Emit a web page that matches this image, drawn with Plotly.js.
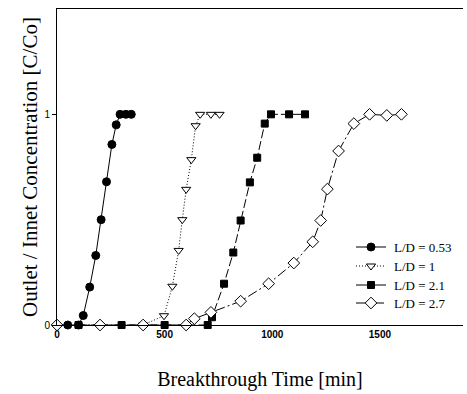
<!DOCTYPE html>
<html><head><meta charset="utf-8">
<script src="https://cdn.plot.ly/plotly-3.0.1.min.js"></script>
<style>html,body{margin:0;padding:0;background:#fff}#c{width:467px;height:394px}</style>
</head><body><div id="c"></div>
<script>
// Data
const seriesNames = ["L/D = 0.53", "L/D = 1", "L/D = 2.1", "L/D = 2.7"];
const t053 = [50, 100, 122, 152, 180, 205, 230, 255, 275, 293, 320, 345];
const c053 = [0, 0, 0.045, 0.18, 0.33, 0.50, 0.68, 0.857, 0.95, 1, 1, 1];
const t1 = [400, 497, 536, 565, 582, 600, 624, 644, 665, 715, 755];
const c1 = [0, 0.044, 0.184, 0.354, 0.5, 0.644, 0.785, 0.946, 1, 1, 1];
const t21 = [100, 300, 500, 700, 720, 776, 819, 853, 896, 930, 965, 994, 1078, 1152];
const c21 = [0, 0, 0, 0, 0.037, 0.196, 0.344, 0.496, 0.677, 0.794, 0.956, 1, 1, 1];
const t27 = [0, 200, 400, 600, 638, 715, 853, 983, 1100, 1188, 1225, 1256, 1308, 1379, 1452, 1532, 1600];
const c27 = [0, 0, 0, 0, 0.03, 0.06, 0.113, 0.196, 0.294, 0.395, 0.496, 0.645, 0.826, 0.956, 1, 0.995, 1];
const xTicks = [0, 500, 1000, 1500];
const yTicks = [0, 1];

const styles = [
  {dash: "solid", symbol: "circle", fill: "black", size: 8},
  {dash: "1px,2px", symbol: "triangle-down", fill: "white", size: 8},
  {dash: "9px,3px", symbol: "square", fill: "black", size: 7},
  {dash: "10px,3px,2px,3px", symbol: "diamond", fill: "white", size: 9}
];
const xs = [t053, t1, t21, t27], ys = [c053, c1, c21, c27];

const traces = [];
for (let i = 0; i < 4; i++) {
  const s = styles[i];
  traces.push({
    x: xs[i], y: ys[i], type: "scatter", mode: "lines+markers", name: seriesNames[i],
    showlegend: false, cliponaxis: false,
    line: {color: "black", width: 1, dash: s.dash},
    marker: {symbol: s.symbol, size: s.size, color: s.fill, line: {color: "black", width: 1}}
  });
}

// Manual legend on pixel-like overlay axes (x2: 0..406 px, y2: 0..316 px)
const legRows = [78, 59, 40, 22];
const legLineX = [299, 329], legMarkX = 314, legTextX = 335;
const annotations = [];
for (let i = 0; i < 4; i++) {
  const s = styles[i];
  traces.push({
    x: legLineX, y: [legRows[i], legRows[i]], xaxis: "x2", yaxis: "y2",
    type: "scatter", mode: "lines", showlegend: false, hoverinfo: "skip", cliponaxis: false,
    line: {color: "black", width: 1, dash: i === 1 ? s.dash : (i === 3 ? "10px,3px,2px,3px" : "solid")}
  });
  traces.push({
    x: [legMarkX], y: [legRows[i]], xaxis: "x2", yaxis: "y2",
    type: "scatter", mode: "markers", showlegend: false, hoverinfo: "skip", cliponaxis: false,
    marker: {symbol: s.symbol, size: s.size, color: s.fill, line: {color: "black", width: 1}}
  });
  annotations.push({
    x: legTextX, y: legRows[i], xref: "x2", yref: "y2", text: seriesNames[i], showarrow: false,
    xanchor: "left", yanchor: "middle", font: {family: "Liberation Serif, Times New Roman, serif", size: 13, color: "black"}
  });
}

const layout = {
  width: 467, height: 394,
  margin: {l: 57, r: 4, t: 9, b: 69},
  paper_bgcolor: "white", plot_bgcolor: "white",
  showlegend: false,
  xaxis: {
    range: [0, 1886], tickvals: xTicks, ticktext: xTicks.map(String),
    showgrid: false, zeroline: false, showline: true, linecolor: "black", linewidth: 1, mirror: true,
    ticks: "", tickfont: {family: "Liberation Sans, Arial, sans-serif", size: 10, weight: "bold", color: "black"},
    title: {text: "Breakthrough Time [min]", standoff: 32,
      font: {family: "Liberation Serif, Times New Roman, serif", size: 20, color: "black"}}
  },
  yaxis: {
    range: [0, 1.5], tickvals: yTicks, ticktext: yTicks.map(String),
    showgrid: false, zeroline: false, showline: true, linecolor: "black", linewidth: 1,
    ticks: "outside", ticklen: 4, tickcolor: "black",
    tickfont: {family: "Liberation Sans, Arial, sans-serif", size: 10, color: "black"},
    title: {text: "Outlet / Innet Concentration [C/Co]", standoff: 1,
      font: {family: "Liberation Serif, Times New Roman, serif", size: 21, color: "black"}}
  },
  xaxis2: {overlaying: "x", range: [0, 406], visible: false, fixedrange: true},
  yaxis2: {overlaying: "y", range: [0, 316], visible: false, fixedrange: true},
  annotations: annotations
};

Plotly.newPlot("c", traces, layout, {displayModeBar: false, staticPlot: true});
</script></body></html>
